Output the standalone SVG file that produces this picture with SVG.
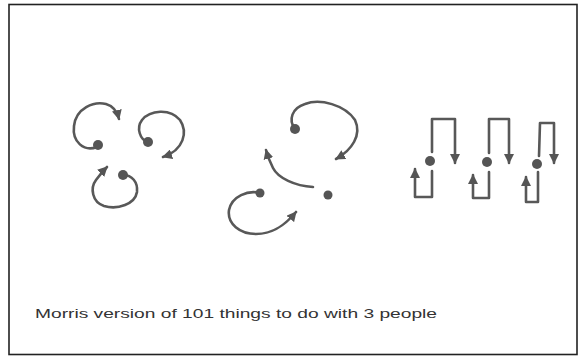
<svg xmlns="http://www.w3.org/2000/svg" width="581" height="357" viewBox="0 0 581 357">
<style>
.c{fill:none;stroke:#585858;stroke-width:2.6;stroke-linecap:round;stroke-linejoin:round}
.d{fill:#555}
.t{font-family:"Liberation Sans",Arial,sans-serif;font-size:13px;fill:#333}
</style>
<defs>
<marker id="ah" markerUnits="userSpaceOnUse" markerWidth="10" markerHeight="10" viewBox="0 0 10 10" refX="9" refY="5" orient="auto">
<path d="M0,0 L10,5 L0,10 Z" fill="#555"/>
</marker>
</defs>
<rect x="9" y="4.5" width="568" height="350" fill="#fff" stroke="#222" stroke-width="1.6"/>
<g id="connectors">
<path class="c" marker-end="url(#ah)" d="M97,147 C84,152 72,142 74,126 C76,108 94,101 106,104 C113,106 117,111 119,119"/>
<path class="c" marker-end="url(#ah)" d="M148,142 C140,140 136,128 142,120 C150,110 170,108 180,120 C188,132 184,150 163,157"/>
<path class="c" marker-end="url(#ah)" d="M123,175 C132,175 138,182 137,192 C135,204 118,210 104,206 C92,202 90,188 96,180 C99,176 102,172 107,167"/>
<path class="c" marker-end="url(#ah)" d="M295,129 C288,120 292,108 305,104 C320,98 345,105 355,120 C362,135 352,150 336,159"/>
<path class="c" marker-end="url(#ah)" d="M313,187 C295,186 278,178 273,168 C270,162 268,157 266,150"/>
<path class="c" marker-end="url(#ah)" d="M260,193 C248,190 232,196 229,210 C227,224 240,234 256,234 C274,234 286,224 296,212"/>
<path class="c" marker-end="url(#ah)" d="M432,152 L432,119 L455,119 L455,163"/>
<path class="c" marker-end="url(#ah)" d="M432,171 L432,197 L415,197 L415,169"/>
<path class="c" marker-end="url(#ah)" d="M489,153 L489,119 L509,119 L509,163"/>
<path class="c" marker-end="url(#ah)" d="M489,172 L489,198 L473,198 L473,175"/>
<path class="c" marker-end="url(#ah)" d="M539,156 L540,123 L554,123 L554,163"/>
<path class="c" marker-end="url(#ah)" d="M538,172 L538,202 L526,202 L526,177"/>
</g>
<g id="p1"><circle class="d" cx="98" cy="145" r="5"/></g>
<g id="p2"><circle class="d" cx="148" cy="142" r="5"/></g>
<g id="p3"><circle class="d" cx="123" cy="175" r="5"/></g>
<g id="p4"><circle class="d" cx="295" cy="129" r="5"/></g>
<g id="p5"><circle class="d" cx="328" cy="195" r="4.5"/></g>
<g id="p6"><circle class="d" cx="260" cy="193" r="4.5"/></g>
<g id="p7"><circle class="d" cx="430" cy="161" r="5"/></g>
<g id="p8"><circle class="d" cx="487" cy="162" r="5"/></g>
<g id="p9"><circle class="d" cx="537" cy="164" r="5"/></g>
<g id="caption"><text class="t" x="35" y="318" textLength="402" lengthAdjust="spacingAndGlyphs">Morris version of 101 things to do with 3 people</text></g>
</svg>
